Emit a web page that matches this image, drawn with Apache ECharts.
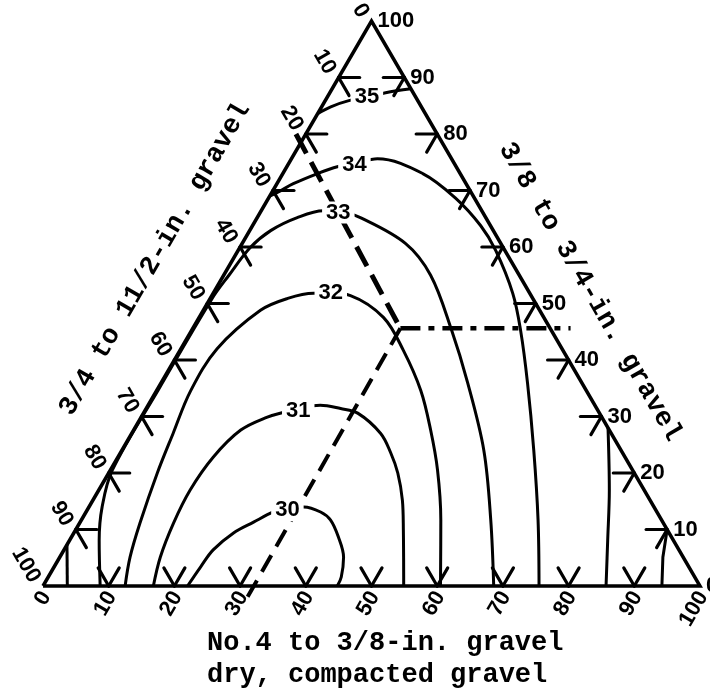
<!DOCTYPE html>
<html>
<head>
<meta charset="utf-8">
<script src="https://cdn.jsdelivr.net/npm/echarts@6/dist/echarts.min.js"></script>
<style>
  html, body { margin: 0; padding: 0; background: #fff; }
  #chart { width: 710px; height: 693px; }
</style>
</head>
<body>
<div id="chart"></div>
<script>
// Ternary points are [b, r] in percent:
//   b = No.4 to 3/8-in. gravel, r = 3/8 to 3/4-in. gravel,
//   3/4 to 1 1/2-in. gravel = 100 - b - r.

const axisLabelValues = [0, 10, 20, 30, 40, 50, 60, 70, 80, 90, 100];
const tickValues = [10, 20, 30, 40, 50, 60, 70, 80, 90];

const contourLevels = [30, 31, 32, 33, 34, 35];

const contour30 = [[22.0, 0], [22.3, 3.4], [22.7, 6.4], [24.3, 9.4], [26.4, 11.3], [28.5, 13.1],
  [30.4, 14.0], [32.7, 14.0], [35.7, 13.1], [37.9, 11.7], [40.6, 8.7], [43.2, 5.1], [44.6, 1.6], [44.8, 0]];

const contour31 = [[16.8, 0], [15.3, 5.1], [14.3, 11.1], [13.9, 17.0], [14.5, 22.8], [16.3, 27.6],
  [19.2, 29.9], [21.2, 30.7], [23.7, 31.6], [26.2, 32.0], [29.6, 31.4], [32.6, 30.6], [37.9, 27.0],
  [41.2, 23.5], [44.0, 20.0], [47.1, 15.2], [49.9, 9.9], [54.9, 0]];

const contour32 = [[12.5, 0], [10.7, 5.1], [9.2, 11.1], [7.4, 20.0], [6.3, 27.0], [5.2, 34.5],
  [5.5, 42.0], [8.7, 48.8], [11.8, 50.9], [15.3, 51.8], [17.9, 51.8], [21.1, 51.4], [28.1, 47.5],
  [34.0, 41.7], [40.2, 34.6], [45.2, 27.6], [49.8, 20.5], [54.7, 11.7], [60.5, 0]];

const contour33 = [[8.7, 0], [4.5, 8.1], [2.0, 14.0], [0.3, 20.5], [0.2, 35.0], [0.3, 50.9],
  [0.8, 55.0], [1.6, 59.9], [3.2, 62.9], [6.1, 65.2], [9.5, 66.4], [12.2, 66.3], [15.7, 65.2],
  [24.9, 60.6], [31.5, 55.0], [39.3, 45.6], [46.7, 35.9], [55.1, 24.0], [62.3, 11.7], [68.6, 0]];

const contour34 = [[0, 69.0], [1.0, 69.8], [2.5, 71.2], [5.3, 73.0], [7.7, 74.2], [10.0, 74.7],
  [13.1, 75.6], [21.3, 73.0], [28.4, 68.7], [34.7, 63.8], [39.2, 59.4], [45.6, 51.8], [50.1, 45.2],
  [55.8, 35.9], [62.7, 24.0], [69.5, 11.7], [75.5, 0]];
const contour34Foot = [[3.7, 0], [0, 7.3]];

const contour35 = [[0, 83.6], [1.4, 84.8], [3.6, 85.9], [6.0, 86.4], [8.5, 87.3], [12.0, 88.0]];
const contour35Foot = [[72.0, 28.0], [77.7, 17.0], [81.9, 8.1], [85.7, 0]];
const edgeContour10 = [[90, 10], [91.8, 5.1], [94.2, 0]];

// where each level number is written
const contourLabelPoints = [[30.5, 13.4], [23.4, 30.9], [17.9, 51.8], [11.9, 66.1], [10.1, 74.6], [6.0, 86.6]];

// divider lines
const dividerA = [[-1.5, 80], [31.6, 45.6]];
const dividerB = [[31.6, 45.6], [57.5, 45.6]];
const dividerC = [[31.6, 45.6], [32.1, -1.9]];

const frame = [[0, 0], [100, 0], [0, 100], [0, 0]];

// ternary [b, r] -> cartesian data [x, y] on a 0..100 grid
function toXY(p) { return [p[0] + p[1] / 2, p[1]]; }

const TICK = 3.2;
const tickSegments = [];
tickValues.forEach(function (v) {
  tickSegments.push([[v, 0], [v, TICK]], [[v, 0], [v - TICK, TICK]]);
  tickSegments.push([[100 - v, v], [100 - v - TICK, v]], [[100 - v, v], [100 - v, v - TICK]]);
  tickSegments.push([[0, 100 - v], [TICK, 100 - v]], [[0, 100 - v], [TICK, 100 - v - TICK]]);
});

// side 0 = bottom, 1 = right, 2 = left
const tickLabelData = [];
axisLabelValues.forEach(function (v) {
  tickLabelData.push(toXY([v, 0]).concat([v, 0]));
  tickLabelData.push(toXY([100 - v, v]).concat([v, 1]));
  tickLabelData.push(toXY([0, 100 - v]).concat([v, 2]));
});

const labelLayout = [
  { dx: 3, dy: 7, rot: Math.PI / 3, align: 'right' },
  { dx: 6, dy: 0, rot: 0, align: 'left' },
  { dx: -8, dy: -5, rot: -Math.PI / 3, align: 'right' }
];

const numFont = 'bold 22px "Liberation Sans", Arial, sans-serif';
const titleFont = 'bold 27px "Liberation Mono", "DejaVu Sans Mono", monospace';

function lineSeries(points, width, extra) {
  return Object.assign({
    type: 'line',
    data: points.map(toXY),
    symbol: 'none',
    clip: false,
    silent: true,
    z: 2,
    lineStyle: { color: '#000', width: width }
  }, extra || {});
}

const series = [
  lineSeries(frame, 3.5, { lineStyle: { color: '#000', width: 3.5, join: 'miter' } }),
  lineSeries(contour30, 3, { smooth: 0.35 }),
  lineSeries(contour31, 3, { smooth: 0.35 }),
  lineSeries(contour32, 3, { smooth: 0.35 }),
  lineSeries(contour33, 3, { smooth: 0.35 }),
  lineSeries(contour34, 3, { smooth: 0.35 }),
  lineSeries(contour34Foot, 3),
  lineSeries(contour35, 3, { smooth: 0.35 }),
  lineSeries(contour35Foot, 3, { smooth: 0.35 }),
  lineSeries(edgeContour10, 3),
  {
    type: 'custom',
    silent: true,
    z: 3,
    data: tickSegments.map(function (s) { return toXY(s[0]).concat(toXY(s[1])); }),
    encode: { x: [0, 2], y: [1, 3] },
    renderItem: function (params, api) {
      const a = api.coord([api.value(0), api.value(1)]);
      const b = api.coord([api.value(2), api.value(3)]);
      return { type: 'line', shape: { x1: a[0], y1: a[1], x2: b[0], y2: b[1] },
        style: { stroke: '#000', lineWidth: 3.2, lineCap: 'round' } };
    }
  },
  {
    type: 'custom',
    silent: true,
    z: 3,
    data: tickLabelData,
    encode: { x: 0, y: 1 },
    renderItem: function (params, api) {
      const p = api.coord([api.value(0), api.value(1)]);
      const L = labelLayout[api.value(3)];
      return { type: 'text', x: p[0] + L.dx, y: p[1] + L.dy, rotation: L.rot,
        style: { text: String(api.value(2)), font: numFont, fill: '#000',
          align: L.align, verticalAlign: 'middle' } };
    }
  },
  lineSeries(dividerA, 5, { z: 5, lineStyle: { color: '#000', width: 5, type: [22, 10] } }),
  lineSeries(dividerB, 4.5, { z: 5, lineStyle: { color: '#000', width: 4.5, type: [20, 8, 6, 8] } }),
  lineSeries(dividerC, 4, { z: 5, lineStyle: { color: '#000', width: 4, type: [19, 10] } }),
  {
    type: 'custom',
    silent: true,
    z: 6,
    data: contourLabelPoints.map(function (p, i) { return toXY(p).concat([contourLevels[i]]); }),
    encode: { x: 0, y: 1 },
    renderItem: function (params, api) {
      const p = api.coord([api.value(0), api.value(1)]);
      return { type: 'text', x: p[0], y: p[1],
        style: { text: String(api.value(2)), font: numFont, fill: '#000',
          align: 'center', verticalAlign: 'middle', backgroundColor: '#fff', padding: [0, 4] } };
    }
  }
];

const chart = echarts.init(document.getElementById('chart'), null, { renderer: 'canvas' });
chart.setOption({
  animation: false,
  backgroundColor: '#fff',
  grid: { left: 43, right: 10, top: 21, bottom: 107 },
  xAxis: { type: 'value', min: 0, max: 100, show: false },
  yAxis: { type: 'value', min: 0, max: 100, show: false },
  series: series,
  graphic: [
    { type: 'text', x: 155, y: 259, rotation: Math.PI / 3, silent: true,
      style: { text: '3/4 to 11/2-in. gravel', font: titleFont, fill: '#000', align: 'center', verticalAlign: 'middle' } },
    { type: 'text', x: 590, y: 292, rotation: -Math.PI / 3, silent: true,
      style: { text: '3/8 to 3/4-in. gravel', font: titleFont, fill: '#000', align: 'center', verticalAlign: 'middle' } },
    { type: 'text', x: 207, y: 643, silent: true,
      style: { text: 'No.4 to 3/8-in. gravel', font: titleFont, fill: '#000', align: 'left', verticalAlign: 'middle' } },
    { type: 'text', x: 207, y: 675, silent: true,
      style: { text: 'dry, compacted gravel', font: titleFont, fill: '#000', align: 'left', verticalAlign: 'middle' } }
  ]
});
</script>
</body>
</html>
